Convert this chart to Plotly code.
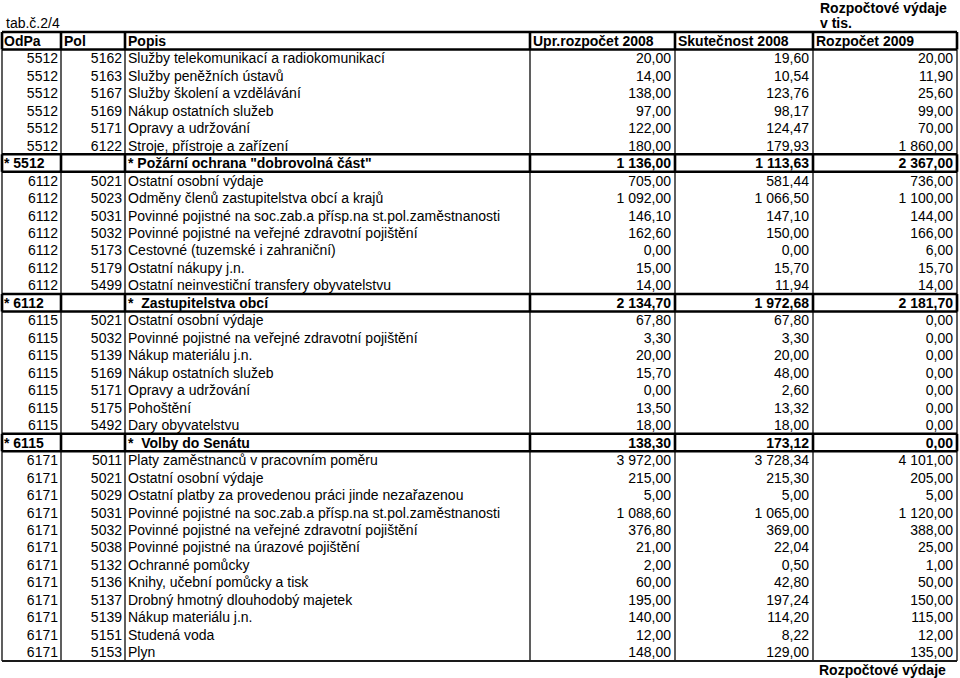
import plotly.graph_objects as go

# table contents (values in thousands CZK)
odpa = ["5512", "5512", "5512", "5512", "5512", "5512", "* 5512",
        "6112", "6112", "6112", "6112", "6112", "6112", "6112", "* 6112",
        "6115", "6115", "6115", "6115", "6115", "6115", "6115", "* 6115",
        "6171", "6171", "6171", "6171", "6171", "6171", "6171", "6171",
        "6171", "6171", "6171", "6171"]
pol = ["5162", "5163", "5167", "5169", "5171", "6122", "",
       "5021", "5023", "5031", "5032", "5173", "5179", "5499", "",
       "5021", "5032", "5139", "5169", "5171", "5175", "5492", "",
       "5011", "5021", "5029", "5031", "5032", "5038", "5132", "5136",
       "5137", "5139", "5151", "5153"]
popis = [
    "Služby telekomunikací a radiokomunikací",
    "Služby peněžních ústavů",
    "Služby školení a vzdělávání",
    "Nákup ostatních služeb",
    "Opravy a udržování",
    "Stroje, přístroje a zařízení",
    "* Požární ochrana \"dobrovolná část\"",
    "Ostatní osobní výdaje",
    "Odměny členů zastupitelstva obcí a krajů",
    "Povinné pojistné na soc.zab.a přísp.na st.pol.zaměstnanosti",
    "Povinné pojistné na veřejné zdravotní pojištění",
    "Cestovné (tuzemské i zahraniční)",
    "Ostatní nákupy j.n.",
    "Ostatní neinvestiční transfery obyvatelstvu",
    "*\u00a0 Zastupitelstva obcí",
    "Ostatní osobní výdaje",
    "Povinné pojistné na veřejné zdravotní pojištění",
    "Nákup materiálu j.n.",
    "Nákup ostatních služeb",
    "Opravy a udržování",
    "Pohoštění",
    "Dary obyvatelstvu",
    "*\u00a0 Volby do Senátu",
    "Platy zaměstnanců v pracovním poměru",
    "Ostatní osobní výdaje",
    "Ostatní platby za provedenou práci jinde nezařazenou",
    "Povinné pojistné na soc.zab.a přísp.na st.pol.zaměstnanosti",
    "Povinné pojistné na veřejné zdravotní pojištění",
    "Povinné pojistné na úrazové pojištění",
    "Ochranné pomůcky",
    "Knihy, učební pomůcky a tisk",
    "Drobný hmotný dlouhodobý majetek",
    "Nákup materiálu j.n.",
    "Studená voda",
    "Plyn",
]
upr_2008 = [20.00, 14.00, 138.00, 97.00, 122.00, 180.00, 1136.00,
            705.00, 1092.00, 146.10, 162.60, 0.00, 15.00, 14.00, 2134.70,
            67.80, 3.30, 20.00, 15.70, 0.00, 13.50, 18.00, 138.30,
            3972.00, 215.00, 5.00, 1088.60, 376.80, 21.00, 2.00, 60.00,
            195.00, 140.00, 12.00, 148.00]
skut_2008 = [19.60, 10.54, 123.76, 98.17, 124.47, 179.93, 1113.63,
             581.44, 1066.50, 147.10, 150.00, 0.00, 15.70, 11.94, 1972.68,
             67.80, 3.30, 20.00, 48.00, 2.60, 13.32, 18.00, 173.12,
             3728.34, 215.30, 5.00, 1065.00, 369.00, 22.04, 0.50, 42.80,
             197.24, 114.20, 8.22, 129.00]
rozp_2009 = [20.00, 11.90, 25.60, 99.00, 70.00, 1860.00, 2367.00,
             736.00, 1100.00, 144.00, 166.00, 6.00, 15.70, 14.00, 2181.70,
             0.00, 0.00, 0.00, 0.00, 0.00, 0.00, 0.00, 0.00,
             4101.00, 205.00, 5.00, 1120.00, 388.00, 25.00, 1.00, 50.00,
             150.00, 115.00, 12.00, 135.00]
headers = ["OdPa", "Pol", "Popis", "Upr.rozpočet 2008", "Skutečnost 2008", "Rozpočet 2009"]

# layout (pixel-like x axis, row-index y axis; row 0 = header)
col_edges = [2, 61, 125, 530, 675, 813, 957]
FONT = "Liberation Sans, Arial, sans-serif"
FS = 14
TXT_DY = 0.09  # nudge cell text slightly down inside its row
n = len(odpa)
rows = list(range(1, n + 1))
is_total = [o.startswith("*") for o in odpa]


def fmt(v):
    return f"{v:,.2f}".replace(",", " ").replace(".", ",")


def b(s, bold):
    return f"<b>{s}</b>" if bold else s


fig = go.Figure()


def add_text(x, y, text, pos):
    fig.add_trace(go.Scatter(
        x=[x] * len(y), y=[v + TXT_DY for v in y], text=text, mode="text", textposition=pos,
        textfont=dict(family=FONT, size=FS, color="black"),
        hoverinfo="skip", showlegend=False,
    ))


# header
for i, h in enumerate(headers):
    add_text(col_edges[i] + (3 if i else 2), [0], [f"<b>{h}</b>"], "middle right")

# OdPa: plain rows right aligned, total rows left aligned
r_norm = [r for r, t in zip(rows, is_total) if not t]
r_tot = [r for r, t in zip(rows, is_total) if t]
add_text(col_edges[1] - 3, r_norm, [o for o, t in zip(odpa, is_total) if not t], "middle left")
add_text(col_edges[0] + 2, r_tot, [b(o, True) for o, t in zip(odpa, is_total) if t], "middle right")
add_text(col_edges[2] - 3, rows, pol, "middle left")
add_text(col_edges[2] + 3, rows, [b(p, t) for p, t in zip(popis, is_total)], "middle right")
for k, series in enumerate([upr_2008, skut_2008, rozp_2009]):
    add_text(col_edges[4 + k] - 4, rows, [b(fmt(v), t) for v, t in zip(series, is_total)], "middle left")

# grid lines
shapes = []
thin = dict(color="#1a1a1a", width=1.4)
thick = dict(color="black", width=2.6)
for x in col_edges:
    shapes.append(dict(type="line", x0=x, x1=x, y0=0.5, y1=n + 0.5, line=thin))
shapes.append(dict(type="line", x0=col_edges[0], x1=col_edges[-1], y0=n + 0.5, y1=n + 0.5,
                   line=dict(color="#1a1a1a", width=2)))
for r in [0] + r_tot:
    for yy in (r - 0.5, r + 0.5):
        shapes.append(dict(type="line", x0=col_edges[0], x1=col_edges[-1], y0=yy, y1=yy, line=thick))
    for x in col_edges:
        shapes.append(dict(type="line", x0=x, x1=x, y0=r - 0.5, y1=r + 0.5, line=thick))

annots = [
    dict(x=col_edges[0] + 2, y=-1.0, text="tab.č.2/4", xanchor="left"),
    dict(x=col_edges[5] + 5, y=-1.9, text="<b>Rozpočtové výdaje</b>", xanchor="left"),
    dict(x=col_edges[5] + 5, y=-1.02, text="<b>v tis.</b>", xanchor="left"),
    dict(x=col_edges[5] + 4, y=n + 1.02, text="<b>Rozpočtové výdaje</b>", xanchor="left"),
]
for a in annots:
    a.update(xref="x", yref="y", yanchor="middle", showarrow=False,
             font=dict(family=FONT, size=FS, color="black"))

fig.update_layout(
    width=960, height=678,
    margin=dict(l=0, r=0, t=0, b=0),
    paper_bgcolor="white", plot_bgcolor="white",
    xaxis=dict(range=[0, 960], visible=False, fixedrange=True),
    yaxis=dict(range=[n + 1.477, -2.332], visible=False, fixedrange=True),
    shapes=shapes, annotations=annots,
    showlegend=False, hovermode=False,
)

# page body has a default 8px margin; drop it so the figure fills the window
fig.write_html("out.html", config={"displayModeBar": False},
               post_script="document.body.style.margin='0';document.body.style.overflow='hidden';")
